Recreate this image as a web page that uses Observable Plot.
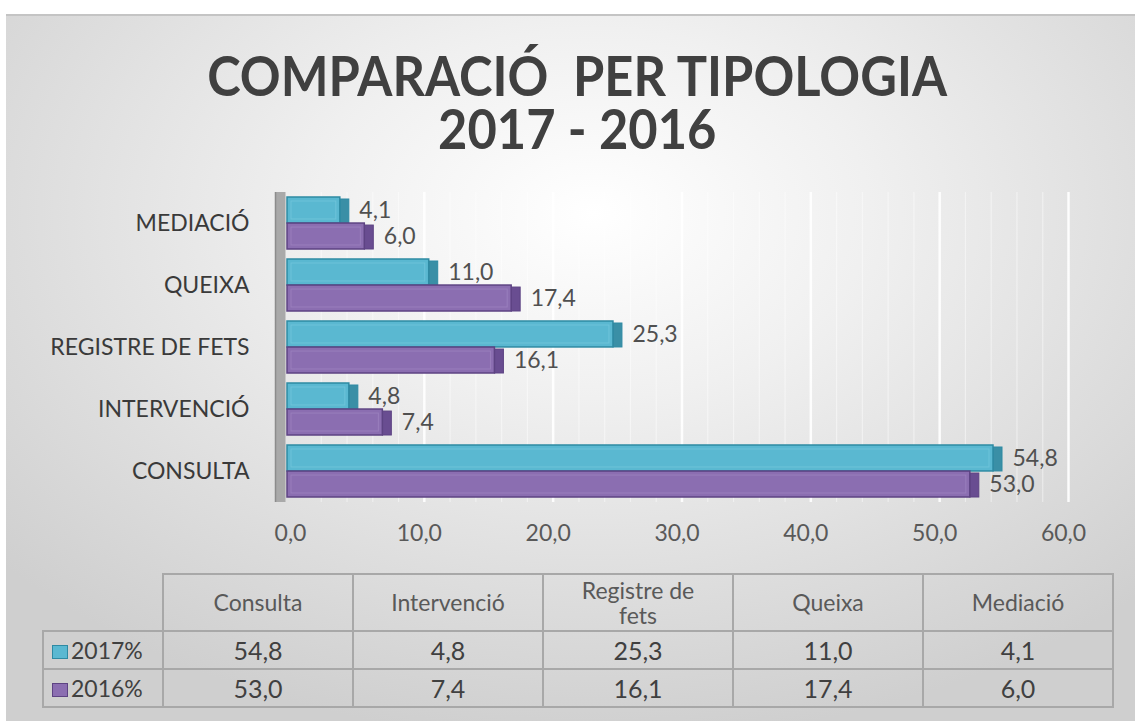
<!DOCTYPE html>
<html><head><meta charset="utf-8">
<script src="https://cdn.jsdelivr.net/npm/d3@7"></script>
<script src="https://cdn.jsdelivr.net/npm/@observablehq/plot@0.6"></script>
<style>
html,body{margin:0;padding:0;background:#fff;}
body{width:1135px;height:728px;overflow:hidden;position:relative;font-family:Lato,"Open Sans",sans-serif;}
#panel{position:absolute;left:6px;top:14px;width:1129px;height:705px;
  background:radial-gradient(ellipse 70% 75% at 52% 28%, #ffffff 0%, #f0f0f0 35%, #dedede 70%, #cfcfcf 100%);
  border-top:2px solid #c4c4c4;}
.title{position:absolute;left:0;width:1155px;text-align:center;color:#404040;font-weight:700;font-size:55px;line-height:50px;height:50px;}
.title span{display:inline-block;transform:scaleX(0.92);white-space:pre;}
#chart{position:absolute;left:0;top:180px;}
#tbl{position:absolute;left:42px;top:573px;border-collapse:collapse;color:#404040;}
#tbl td,#tbl th{border:2px solid #a8a8a8;text-align:center;padding:0;}
#tbl th{font-weight:400;font-size:23px;color:#595959;height:55px;width:188px;line-height:25px;}
#tbl th span{display:inline-block;max-width:130px;}
#tbl th.corner{border-top:none;border-left:none;width:119px;}
#tbl td{font-size:25px;height:36px;}
#tbl td.lab{text-align:left;padding-left:8px;font-size:23px;}
#tbl .key{display:inline-block;width:14px;height:12px;margin-right:3px;vertical-align:0px;border:1.5px solid;}
</style></head>
<body>
<div id="panel"></div>
<div class="title" style="top:50px"><span>COMPARACIÓ  PER TIPOLOGIA</span></div>
<div class="title" style="top:103px"><span>2017 - 2016</span></div>
<div id="chart"></div>
<table id="tbl"></table>
<script>
// ---- data ----
const categories = ["Consulta", "Intervenció", "Registre de fets", "Queixa", "Mediació"];
const values2017 = [54.8, 4.8, 25.3, 11.0, 4.1];
const values2016 = [53.0, 7.4, 16.1, 17.4, 6.0];
const seriesNames = ["2017%", "2016%"];
const xTicks = [0, 10, 20, 30, 40, 50, 60];
const minorTicks = [2, 4, 6, 8, 12, 14, 16, 18, 22, 24, 26, 28, 32, 34, 36, 38, 42, 44, 46, 48, 52, 54, 56, 58];

// ---- styles ----
const seriesStyle = [
  {front: "#5ab8d1", border: "#2e8aa3", side: "#3a8fa6", inner: "#7ccbe0"},
  {front: "#8b6eb1", border: "#5d4383", side: "#694d91", inner: "#a38bc4"}
];
const fmt = d => d.toFixed(1).replace(".", ",");
const seriesValues = [values2017, values2016];
const rows = seriesNames.map((s, si) => categories.map((c, i) => ({cat: c, series: s, value: seriesValues[si][i]})));

const H = 370, MT = 12, MB = 48;
const band = (H - MT - MB) / 5 * (1 - 0.16);
const half = band / 2;

const marks = [
  Plot.ruleX(minorTicks, {stroke: "#ffffff", strokeOpacity: 0.45, strokeWidth: 1.2, dx: 8}),
  Plot.ruleX(xTicks.slice(1), {stroke: "#ffffff", strokeOpacity: 0.9, strokeWidth: 2.5, dx: 8}),
  Plot.ruleX([0], {stroke: "#a9a9a9", strokeWidth: 10, dx: -7}),
  Plot.ruleX([0], {stroke: "#8c8c8c", strokeWidth: 1.5, dx: -12}),
  Plot.axisX({ticks: xTicks, tickFormat: fmt, tickSize: 0, tickPadding: 22, fontSize: 23, fill: "#595959", dx: 3, label: null}),
  Plot.axisY({tickSize: 0, tickPadding: 38, fontSize: 23, fill: "#3a3a3a", tickFormat: d => d.toUpperCase(), label: null})
];
rows.forEach((data, si) => {
  const st = seriesStyle[si];
  const it = si === 0 ? 0 : half, ib = si === 0 ? half : 0;
  marks.push(
    Plot.barX(data, {x1: "value", x2: "value", y: "cat", insetRight: -9, insetTop: it + 2, insetBottom: ib, fill: st.side, stroke: st.border, strokeWidth: 1}),
    Plot.barX(data, {x1: 0, x2: "value", y: "cat", insetTop: it, insetBottom: ib, fill: st.front, stroke: st.border, strokeWidth: 1.5}),
    Plot.barX(data, {x1: 0, x2: "value", y: "cat", insetTop: it + 4, insetBottom: ib + 4, insetLeft: 4, insetRight: 4, fill: "none", stroke: st.inner, strokeOpacity: 0.6, strokeWidth: 1}),
    Plot.text(data, {x: "value", y: "cat", text: d => fmt(d.value), dx: 19, dy: si === 0 ? -half / 2 : half / 2, textAnchor: "start", fontSize: 23, fill: "#505050"})
  );
});

const chart = Plot.plot({
  width: 1135, height: H,
  marginLeft: 287, marginRight: 75, marginTop: MT, marginBottom: MB,
  style: {background: "transparent", fontFamily: "Lato, 'Open Sans', sans-serif"},
  x: {domain: [0, 60], label: null},
  y: {domain: categories.slice().reverse(), paddingInner: 0.16, paddingOuter: 0.08, label: null},
  marks
});
document.getElementById("chart").appendChild(chart);

// ---- data table ----
const tbl = document.getElementById("tbl");
let html = "<tr><th class='corner'></th>" + categories.map(c => `<th><span>${c}</span></th>`).join("") + "</tr>";
seriesNames.forEach((s, si) => {
  html += `<tr><td class="lab"><span class="key" style="background:${seriesStyle[si].front};border-color:${seriesStyle[si].border}"></span>${s}</td>` +
    seriesValues[si].map(v => `<td>${fmt(v)}</td>`).join("") + "</tr>";
});
tbl.innerHTML = html;
</script>
</body></html>
